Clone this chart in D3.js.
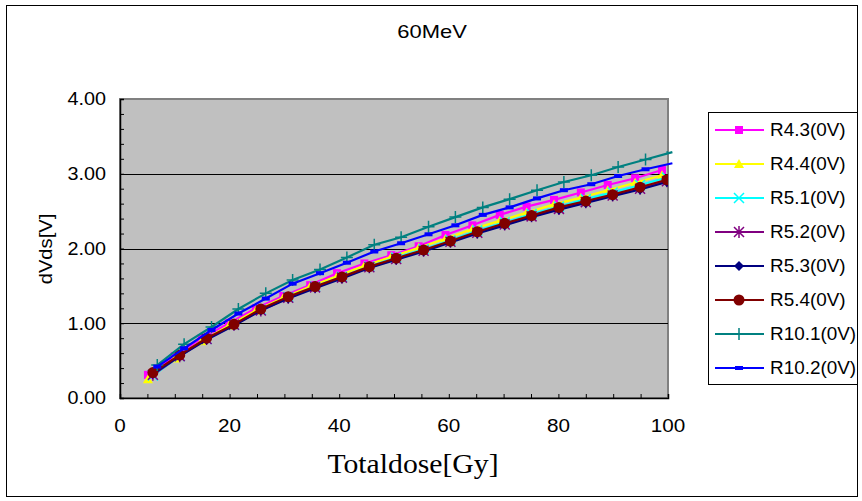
<!DOCTYPE html>
<html>
<head>
<meta charset="utf-8">
<script src="https://cdn.jsdelivr.net/npm/d3@7"></script>
<style>
  body { margin: 0; background: #fff; }
  svg { display: block; }
</style>
</head>
<body>
<svg id="chart"></svg>
<script>
/*	Chart values -------------------------------------*/
const title = "60MeV";
const xLabel = "Totaldose[Gy]";
const yLabel = "dVds[V]";
const xTicks = [0, 20, 40, 60, 80, 100];
const yTicks = [0, 1, 2, 3, 4];

/*	Dose points of each sample group -------------------*/
const doseR4 = [5.1, 10.0, 14.9, 19.9, 24.8, 29.8, 34.7, 39.6, 44.6, 49.5, 54.5, 59.4, 64.3, 69.3, 74.2, 79.2, 84.1, 89.0, 94.0, 98.9];
const doseR5 = [6.0, 10.9, 15.8, 20.8, 25.7, 30.7, 35.6, 40.5, 45.5, 50.4, 55.4, 60.3, 65.2, 70.2, 75.1, 80.1, 85.0, 89.9, 94.9, 99.8];
const doseR10 = [6.8, 11.7, 16.7, 21.6, 26.6, 31.5, 36.5, 41.4, 46.4, 51.3, 56.3, 61.2, 66.2, 71.1, 76.1, 81.0, 86.0, 90.9, 95.9, 100.8];

/*	dVds of each sample ---------------------------------*/
const r43 = [0.31, 0.56, 0.80, 1.00, 1.20, 1.365, 1.51, 1.67, 1.80, 1.91, 2.03, 2.18, 2.31, 2.45, 2.56, 2.65, 2.75, 2.85, 2.94, 3.05];
const r44 = [0.25, 0.53, 0.76, 0.97, 1.17, 1.34, 1.49, 1.63, 1.77, 1.89, 2.01, 2.13, 2.26, 2.37, 2.48, 2.59, 2.68, 2.78, 2.88, 2.98];
const r51 = [0.30, 0.56, 0.79, 0.98, 1.18, 1.35, 1.49, 1.62, 1.76, 1.88, 1.99, 2.11, 2.24, 2.35, 2.46, 2.56, 2.66, 2.75, 2.85, 2.95];
const r52 = [0.31, 0.56, 0.79, 0.98, 1.17, 1.34, 1.48, 1.61, 1.75, 1.86, 1.97, 2.09, 2.21, 2.32, 2.43, 2.53, 2.62, 2.71, 2.80, 2.90];
const r53 = [0.32, 0.56, 0.78, 0.97, 1.17, 1.33, 1.47, 1.60, 1.74, 1.85, 1.96, 2.08, 2.20, 2.31, 2.42, 2.52, 2.61, 2.70, 2.79, 2.89];
const r54 = [0.34, 0.575, 0.80, 0.985, 1.19, 1.355, 1.49, 1.62, 1.757, 1.87, 1.98, 2.10, 2.225, 2.337, 2.44, 2.55, 2.635, 2.72, 2.82, 2.92];
const r101 = [0.44, 0.72, 0.95, 1.19, 1.40, 1.58, 1.72, 1.88, 2.05, 2.15, 2.29, 2.42, 2.55, 2.66, 2.78, 2.89, 2.98, 3.09, 3.19, 3.29];
const r102 = [0.42, 0.665, 0.91, 1.13, 1.33, 1.53, 1.67, 1.81, 1.96, 2.07, 2.19, 2.31, 2.45, 2.55, 2.67, 2.78, 2.86, 2.97, 3.06, 3.14];

const seriesNames = ["R4.3(0V)", "R4.4(0V)", "R5.1(0V)", "R5.2(0V)", "R5.3(0V)", "R5.4(0V)", "R10.1(0V)", "R10.2(0V)"];
const seriesColors = ["#FF00FF", "#FFFF00", "#00FFFF", "#800080", "#000080", "#800000", "#008080", "#0000FF"];
const seriesMarkers = ["square", "triangle", "x", "asterisk", "diamond", "circle", "plus", "dash"];
const seriesDose = [doseR4, doseR4, doseR5, doseR5, doseR5, doseR5, doseR10, doseR10];
const seriesValues = [r43, r44, r51, r52, r53, r54, r101, r102];

/*	Size of the page and the plot area ----------------*/
const width = 862, height = 501;
const plot = {left: 120, top: 99, right: 668, bottom: 398};
const font = "'Liberation Sans', Arial, sans-serif";

const svg = d3.select("#chart").attr("width", width).attr("height", height);

/*	Text helper: the original text is a bit stretched --*/
function addText(parent, tx, ty, str, opts) {
	const g = parent.append("g")
		.attr("transform", `translate(${tx},${ty}) ${opts.rotate ? "rotate(" + opts.rotate + ")" : ""} scale(${opts.sx || 1},1)`);
	return g.append("text")
		.attr("text-anchor", opts.anchor || "start")
		.attr("dy", opts.dy || null)
		.attr("font-family", opts.family || font)
		.attr("font-size", opts.size || 17)
		.attr("fill", "#000")
		.text(str);
}

/*	Outer frame of the chart --------------------------*/
svg.append("rect")
	.attr("x", 6.5).attr("y", 5.5)
	.attr("width", 851).attr("height", 491)
	.attr("fill", "#fff").attr("stroke", "#000").attr("stroke-width", 1);

const x = d3.scaleLinear().domain([0, 100]).range([plot.left, plot.right]);
const y = d3.scaleLinear().domain([0, 4]).range([plot.bottom, plot.top]);

/*	Grey plot area with its border --------------------*/
svg.append("rect")
	.attr("x", plot.left).attr("y", plot.top)
	.attr("width", plot.right - plot.left).attr("height", plot.bottom - plot.top)
	.attr("fill", "#C0C0C0").attr("stroke", "#808080").attr("stroke-width", 2);

/*	Horizontal gridlines -------------------------------*/
svg.append("g").selectAll("line")
	.data(yTicks.filter(d => d > 0 && d < 4))
	.join("line")
	.attr("x1", plot.left).attr("x2", plot.right)
	.attr("y1", d => Math.round(y(d)) + 0.5).attr("y2", d => Math.round(y(d)) + 0.5)
	.attr("stroke", "#000").attr("stroke-width", 1);

/*	Axes: minor ticks inside, labels outside ----------*/
const yAxis = d3.axisLeft(y).tickValues(d3.range(0, 4.001, 0.2)).tickSize(-4).tickFormat("");
svg.append("g").attr("class", "axis")
	.attr("transform", `translate(${plot.left},0)`)
	.call(yAxis)
	.call(g => g.select(".domain").attr("stroke", "#000").attr("stroke-width", 1.5));

const xAxis = d3.axisBottom(x).tickValues(d3.range(0, 100.001, 5)).tickSize(-4).tickFormat("");
svg.append("g").attr("class", "axis")
	.attr("transform", `translate(0,${plot.bottom})`)
	.call(xAxis)
	.call(g => g.select(".domain").attr("stroke", "#000").attr("stroke-width", 1.5));

/*	Tick labels ---------------------------------------*/
const yLabels = svg.append("g");
yTicks.forEach(d => addText(yLabels, 106, y(d), d.toFixed(2), {anchor: "end", dy: "0.36em", size: 18, sx: 1.1}));

const xLabels = svg.append("g");
xTicks.forEach(d => addText(xLabels, x(d), 432, String(d), {anchor: "middle", size: 18, sx: 1.15}));

/*	Titles --------------------------------------------*/
addText(svg, 432, 38, title, {anchor: "middle", size: 18, sx: 1.22});
addText(svg, 413, 473, xLabel, {anchor: "middle", size: 27, sx: 1.1, family: "'Liberation Serif', 'DejaVu Serif', serif"});
addText(svg, 52, 249, yLabel, {anchor: "middle", size: 18, sx: 1.12, rotate: -90});

/*	Marker shapes used by series and legend -----------*/
function drawMarker(g, type, color) {
	if (type === "square") {
		g.append("rect").attr("x", -4).attr("y", -4).attr("width", 8).attr("height", 8).attr("fill", color);
	} else if (type === "triangle") {
		g.append("path").attr("d", "M0,-5L5,4L-5,4Z").attr("fill", color);
	} else if (type === "circle") {
		g.append("circle").attr("r", 5.5).attr("fill", color);
	} else if (type === "diamond") {
		g.append("path").attr("d", "M0,-5L5,0L0,5L-5,0Z").attr("fill", color);
	} else if (type === "x") {
		g.append("path").attr("d", "M-5,-5L5,5M-5,5L5,-5").attr("stroke", color).attr("stroke-width", 1.5);
	} else if (type === "asterisk") {
		g.append("path").attr("d", "M-5,-5L5,5M-5,5L5,-5M0,-6L0,6").attr("stroke", color).attr("stroke-width", 1.5);
	} else if (type === "plus") {
		g.append("path").attr("d", "M-6,0L6,0M0,-6L0,6").attr("stroke", color).attr("stroke-width", 1.5);
	} else if (type === "dash") {
		g.append("rect").attr("x", -4).attr("y", -2).attr("width", 8).attr("height", 4).attr("fill", color);
	}
}

/*	Clip markers to the plot area ---------------------*/
svg.append("clipPath").attr("id", "plotClip")
	.append("rect")
	.attr("x", plot.left).attr("y", plot.top)
	.attr("width", plot.right - plot.left).attr("height", plot.bottom - plot.top);

const line = d3.line().x(d => x(d[0])).y(d => y(d[1]));

/*	Draw every series in order: line then markers -----*/
seriesNames.forEach((name, i) => {
	const pts = seriesDose[i].map((d, k) => [d, seriesValues[i][k]]);
	const g = svg.append("g").attr("class", "series");
	g.append("path")
		.datum(pts)
		.attr("d", line)
		.attr("fill", "none")
		.attr("stroke", seriesColors[i])
		.attr("stroke-width", 2.2);
	const mg = g.append("g").attr("clip-path", "url(#plotClip)");
	pts.forEach(p => {
		const m = mg.append("g").attr("transform", `translate(${x(p[0])},${y(p[1])})`);
		drawMarker(m, seriesMarkers[i], seriesColors[i]);
	});
});

/*	Legend box ----------------------------------------*/
const legend = svg.append("g");
legend.append("rect")
	.attr("x", 708.5).attr("y", 112.5)
	.attr("width", 149).attr("height", 272)
	.attr("fill", "#fff").attr("stroke", "#000").attr("stroke-width", 1);

seriesNames.forEach((name, i) => {
	const ly = 130 + i * 34;
	const row = legend.append("g");
	row.append("line")
		.attr("x1", 715).attr("x2", 764)
		.attr("y1", ly).attr("y2", ly)
		.attr("stroke", seriesColors[i]).attr("stroke-width", 2);
	const m = row.append("g").attr("transform", `translate(739,${ly})`);
	drawMarker(m, seriesMarkers[i], seriesColors[i]);
	addText(row, 770, ly, name, {dy: "0.36em", size: 18, sx: 1.05});
});
</script>
</body>
</html>
